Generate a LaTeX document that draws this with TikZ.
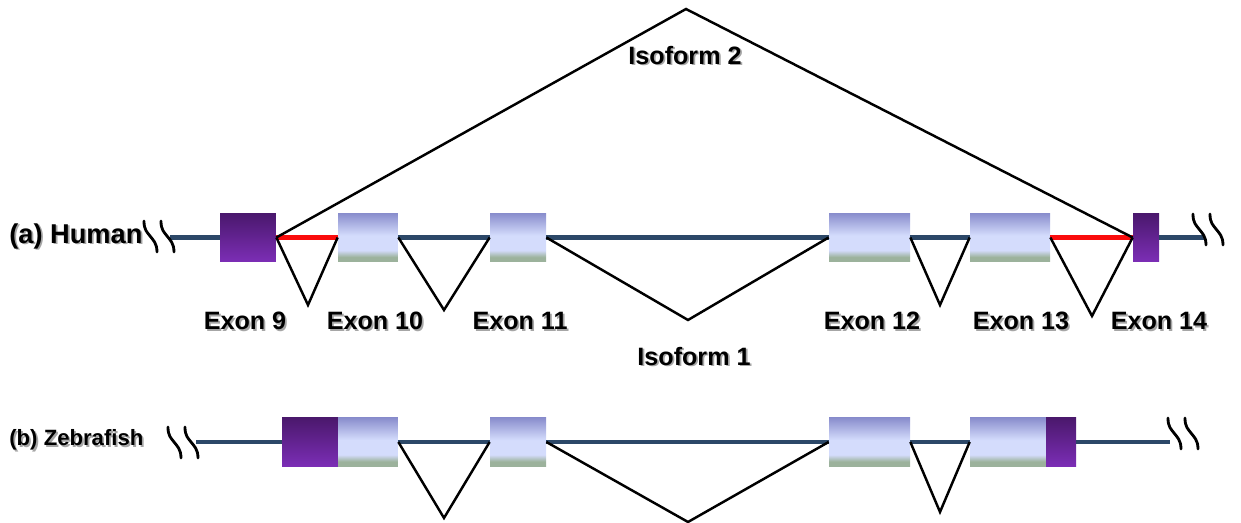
\documentclass[tikz,border=0pt]{standalone}
\usepackage{fontspec}
\setmainfont{Liberation Sans}
\usetikzlibrary{positioning}

\definecolor{genecol}{RGB}{44,72,104}
\definecolor{utrdark}{RGB}{74,24,108}
\definecolor{utrlight}{RGB}{124,46,182}
\definecolor{exontop}{RGB}{136,140,204}
\definecolor{exonmid}{RGB}{212,220,252}
\definecolor{exonbot}{RGB}{156,178,156}
\definecolor{skipred}{RGB}{250,12,12}

% coding exon fill: lavender top, pale middle, sage bottom
\pgfdeclareverticalshading{exonshade}{100bp}{color(0bp)=(exonbot); color(30bp)=(exonbot); color(37bp)=(exonmid); color(52bp)=(exonmid); color(75bp)=(exontop); color(100bp)=(exontop)}

% label text with a soft drop shadow
\newcommand\shadowed[1]{\makebox[0pt][l]{\kern1pt\raisebox{-1pt}{\textcolor{black!35}{#1}}}#1}

\tikzset{
  exonbox/.style={minimum height=0.98cm,inner sep=0pt,shading=exonshade},
  utrbox/.style={minimum height=0.98cm,inner sep=0pt,top color=utrdark,bottom color=utrlight},
  gene/.style={genecol,line width=2.8pt},
  skipped/.style={skipred,line width=2.8pt},
  splice/.style={black,line width=1.4pt,line join=miter},
  squiggle/.style={black,line width=1.6pt,line cap=round},
  exonlabel/.style={font=\bfseries\fontsize{14.3}{16}\selectfont,inner sep=0pt},
  species/.style={inner sep=0pt,anchor=west},
  breakmark/.pic={
    \draw[squiggle] (0,0) .. controls (0,9) and (3,11) .. (6,15) .. controls (9,19) and (13,22) .. (13,31);
    \draw[squiggle] (17,0) .. controls (17,9) and (20,11) .. (23,15) .. controls (26,19) and (30,22) .. (30,31);
  }
}

\begin{document}
\begin{tikzpicture}[x=0.02cm,y=-0.02cm]
\useasboundingbox (0,0) rectangle (1241,523);

% (a) human exons 9-14
\node[utrbox,minimum width=1.12cm] (h9) at (248,237.5) {};
\node[exonbox,minimum width=1.2cm] (h10) at (368,237.5) {};
\node[exonbox,minimum width=1.12cm] (h11) at (518,237.5) {};
\node[exonbox,minimum width=1.62cm] (h12) at (869.5,237.5) {};
\node[exonbox,minimum width=1.6cm] (h13) at (1010,237.5) {};
\node[utrbox,minimum width=0.52cm] (h14) at (1146,237.5) {};

\coordinate (hl) at (170,237.5);
\coordinate (hr) at (1205,237.5);
\draw[gene] (hl) -- (h9.west);
\draw[skipped] (h9.east) -- (h10.west);
\draw[gene] (h10.east) -- (h11.west);
\draw[gene] (h11.east) -- (h12.west);
\draw[gene] (h12.east) -- (h13.west);
\draw[skipped] (h13.east) -- (h14.west);
\draw[gene] (h14.east) -- (hr);

\pic at (144,221) {breakmark};
\pic at (1193,214) {breakmark};

% splicing
\coordinate (hv9) at (308,305);
\coordinate (hv10) at (444,310);
\coordinate (hv11) at (688,320);
\coordinate (hv12) at (940,305);
\coordinate (hv13) at (1092,316);
\coordinate (hiso) at (686,9);
\draw[splice] (h9.east) -- (hv9) -- (h10.west);
\draw[splice] (h10.east) -- (hv10) -- (h11.west);
\draw[splice] (h11.east) -- (hv11) -- (h12.west);
\draw[splice] (h12.east) -- (hv12) -- (h13.west);
\draw[splice] (h13.east) -- (hv13) -- (h14.west);
\draw[splice] (h9.east) -- (hiso) -- (h14.west);

\node[species,font=\bfseries\fontsize{15.5}{17}\selectfont] (human) at (9,237) {\shadowed{(a) Human}};
\node[exonlabel] (iso2) at (685,56) {\shadowed{Isoform 2}};
\node[exonlabel] (iso1) at (694,357) {\shadowed{Isoform 1}};
\node[exonlabel] (l9) at (245,322) {\shadowed{Exon 9}};
\node[exonlabel] (l10) at (375,322) {\shadowed{Exon 10}};
\node[exonlabel] (l11) at (520,322) {\shadowed{Exon 11}};
\node[exonlabel] (l12) at (872,322) {\shadowed{Exon 12}};
\node[exonlabel] (l13) at (1021,322) {\shadowed{Exon 13}};
\node[exonlabel] (l14) at (1159,322) {\shadowed{Exon 14}};

% (b) zebrafish
\node[utrbox,minimum width=1.12cm] (z9) at (310,442) {};
\node[exonbox,minimum width=1.2cm] (z10) at (368,442) {};
\node[exonbox,minimum width=1.12cm] (z11) at (518,442) {};
\node[exonbox,minimum width=1.62cm] (z12) at (869.5,442) {};
\node[exonbox,minimum width=1.52cm] (z13) at (1008,442) {};
\node[utrbox,minimum width=0.6cm] (z14) at (1061,442) {};

\coordinate (zl) at (196,442);
\coordinate (zr) at (1170,442);
\draw[gene] (zl) -- (z9.west);
\draw[gene] (z10.east) -- (z11.west);
\draw[gene] (z11.east) -- (z12.west);
\draw[gene] (z12.east) -- (z13.west);
\draw[gene] (z14.east) -- (zr);

\pic at (168,427) {breakmark};
\pic at (1168,418) {breakmark};

\coordinate (zv10) at (444,518);
\coordinate (zv11) at (688,522);
\coordinate (zv12) at (940,512);
\draw[splice] (z10.east) -- (zv10) -- (z11.west);
\draw[splice] (z11.east) -- (zv11) -- (z12.west);
\draw[splice] (z12.east) -- (zv12) -- (z13.west);

\node[species,font=\bfseries\fontsize{12.6}{15}\selectfont] (zebra) at (9,441) {\shadowed{(b) Zebrafish}};
\end{tikzpicture}
\end{document}
